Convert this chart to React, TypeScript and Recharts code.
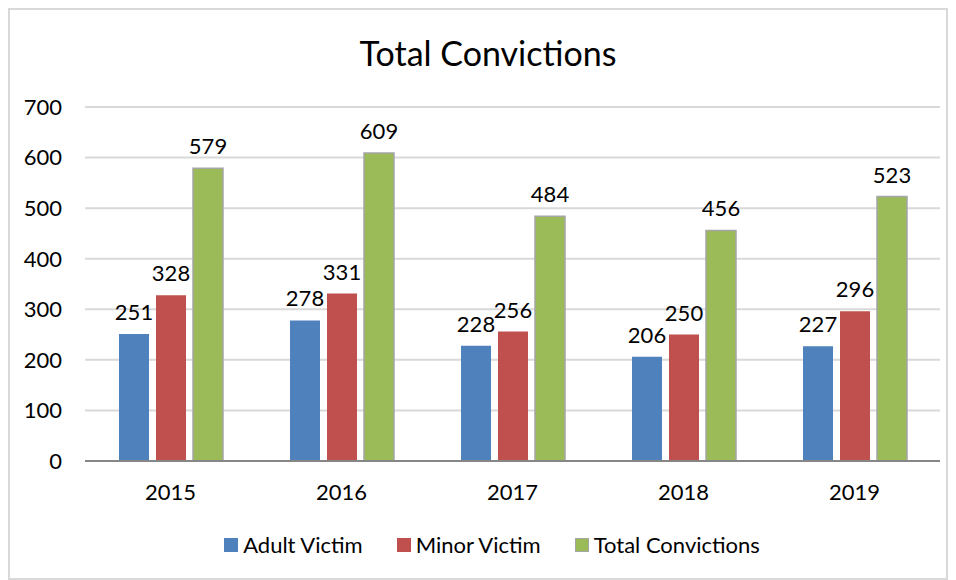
import React from 'react';
import { BarChart, Bar, XAxis, YAxis, CartesianGrid, Legend, LabelList } from 'recharts';

// Categorias (anos)
const years = ['2015', '2016', '2017', '2018', '2019'];

// Séries
const adultVictim = [251, 278, 228, 206, 227];
const minorVictim = [328, 331, 256, 250, 296];
const totalConvictions = [579, 609, 484, 456, 523];

// Ticks do eixo Y
const yTicks = [0, 100, 200, 300, 400, 500, 600, 700];

const data = years.map((year, i) => ({
    year,
    adult: adultVictim[i],
    minor: minorVictim[i],
    total: totalConvictions[i],
}));

const FONT = 'Lato, "Open Sans", sans-serif';

const legendItems = [
    { label: 'Adult Victim', color: '#4f81bd', border: '#4f81bd' },
    { label: 'Minor Victim', color: '#c0504d', border: '#c0504d' },
    { label: 'Total Convictions', color: '#9bbb59', border: '#a5a5a5' },
];

function CustomLegend() {
    return (
        <div style={{ display: 'flex', justifyContent: 'center', alignItems: 'center', paddingLeft: 34, fontFamily: FONT, fontSize: 22, color: '#000' }}>
            {legendItems.map((item, i) => (
                <div key={item.label} style={{ display: 'flex', alignItems: 'center', marginLeft: i === 0 ? 0 : 34 }}>
                    <span
                        style={{
                            display: 'inline-block',
                            width: 12,
                            height: 12,
                            background: item.color,
                            border: `1px solid ${item.border}`,
                            marginRight: 5,
                        }}
                    />
                    <span>{item.label}</span>
                </div>
            ))}
        </div>
    );
}

export default function App() {
    return (
        <div
            style={{
                position: 'relative',
                width: 936,
                height: 568,
                border: '2px solid #d9d9d9',
                background: '#fff',
                fontFamily: FONT,
            }}
        >
            <div
                style={{
                    position: 'absolute',
                    top: 22,
                    left: 10,
                    width: '100%',
                    textAlign: 'center',
                    fontSize: 34,
                    color: '#000',
                }}
            >
                Total Convictions
            </div>
            <BarChart
                width={936}
                height={568}
                data={data}
                margin={{ top: 97, right: 6, left: 0, bottom: 20 }}
                barSize={30}
                barGap={7}
                barCategoryGap={33}
            >
                <CartesianGrid vertical={false} stroke="#d9d9d9" strokeWidth={2} />
                <XAxis
                    dataKey="year"
                    height={70}
                    axisLine={{ stroke: '#868686', strokeWidth: 2 }}
                    tickLine={false}
                    tickMargin={17}
                    tick={{ fill: '#000', fontSize: 22, fontFamily: FONT }}
                />
                <YAxis
                    width={75}
                    domain={[0, 700]}
                    ticks={yTicks}
                    interval={0}
                    axisLine={false}
                    tickLine={false}
                    tickSize={0}
                    tickMargin={23}
                    tick={{ fill: '#000', fontSize: 22, fontFamily: FONT }}
                />
                <Legend verticalAlign="bottom" content={<CustomLegend />} />
                <Bar dataKey="adult" name="Adult Victim" fill="#4f81bd" isAnimationActive={false}>
                    <LabelList dataKey="adult" position="top" offset={14} fill="#000" fontSize={22} fontFamily={FONT} />
                </Bar>
                <Bar dataKey="minor" name="Minor Victim" fill="#c0504d" isAnimationActive={false}>
                    <LabelList dataKey="minor" position="top" offset={14} fill="#000" fontSize={22} fontFamily={FONT} />
                </Bar>
                <Bar dataKey="total" name="Total Convictions" fill="#9bbb59" stroke="#a5a5a5" strokeWidth={1.5} isAnimationActive={false}>
                    <LabelList dataKey="total" position="top" offset={14} fill="#000" fontSize={22} fontFamily={FONT} />
                </Bar>
            </BarChart>
        </div>
    );
}
